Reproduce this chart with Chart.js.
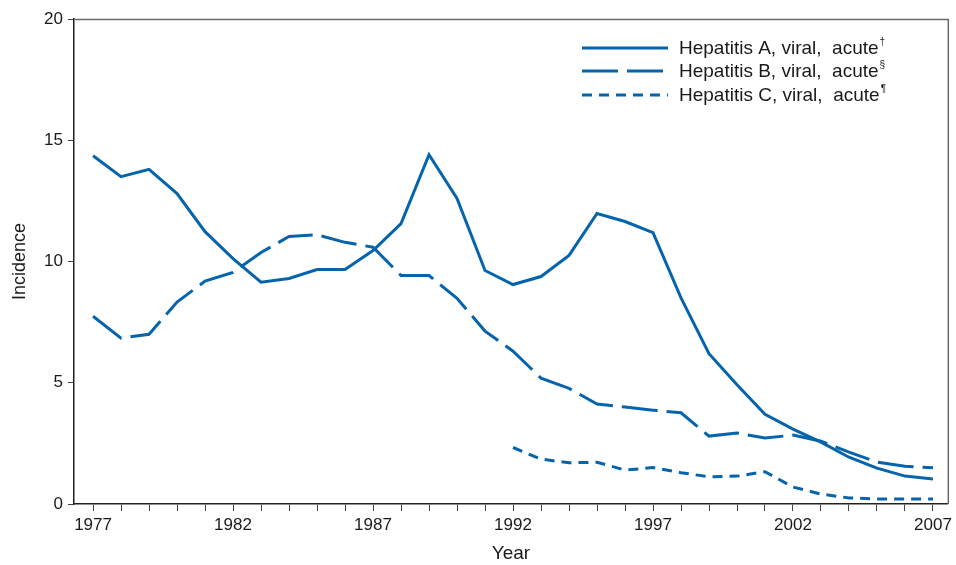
<!DOCTYPE html>
<html>
<head>
<meta charset="utf-8">
<script src="https://cdn.jsdelivr.net/npm/chart.js@4/dist/chart.umd.min.js"></script>
<style>
html,body{margin:0;padding:0;background:#fff;}
#wrap{width:956px;height:565px;position:relative;}
</style>
</head>
<body>
<div id="wrap"><canvas id="c" width="956" height="565"></canvas></div>
<script>
const years = [1977,1978,1979,1980,1981,1982,1983,1984,1985,1986,1987,1988,1989,1990,1991,1992,1993,1994,1995,1996,1997,1998,1999,2000,2001,2002,2003,2004,2005,2006,2007];
const hepA = [14.36,13.5,13.8,12.8,11.23,10.12,9.15,9.3,9.67,9.67,10.45,11.56,14.4,12.6,9.63,9.05,9.38,10.25,11.98,11.65,11.19,8.5,6.2,4.92,3.7,3.09,2.55,1.93,1.48,1.15,1.03];
const hepB = [7.74,6.84,7.0,8.33,9.19,9.55,10.37,11.03,11.1,10.79,10.59,9.42,9.42,8.48,7.13,6.3,5.19,4.77,4.12,4.0,3.87,3.76,2.8,2.93,2.72,2.84,2.59,2.14,1.73,1.56,1.49];
const hepC = [null,null,null,null,null,null,null,null,null,null,null,null,null,null,null,2.33,1.85,1.70,1.72,1.40,1.50,1.29,1.12,1.15,1.33,0.70,0.41,0.25,0.21,0.21,0.21];
const labeledYears = [1977,1982,1987,1992,1997,2002,2007];
const yTicks = [0,5,10,15,20];
const seriesNames = ['Hepatitis A, viral,  acute','Hepatitis B, viral,  acute','Hepatitis C, viral,  acute'];
const seriesMarks = ['\u2020','\u00A7','\u00B6'];

const BLUE = '#0564ab';
const FONT = '"Liberation Sans", Arial, Helvetica, sans-serif';
const dashes = [[], [36, 9], [10, 7]];

function pts(arr){ return years.map((y,i)=>({x:y, y:arr[i]})); }

const framePlugin = {
  id:'frame',
  afterDraw(chart){
    const {ctx, chartArea:a} = chart;
    ctx.save();
    ctx.strokeStyle = '#6a6a6a';
    ctx.lineWidth = 1.5;
    ctx.beginPath();
    ctx.moveTo(a.left, a.top+0.5);
    ctx.lineTo(a.right+0.5, a.top+0.5);
    ctx.lineTo(a.right+0.5, a.bottom);
    ctx.stroke();
    // legend
    const rows = [48, 71, 95];
    ctx.textBaseline = 'middle';
    ctx.textAlign = 'left';
    for (let i=0;i<3;i++){
      const y = rows[i];
      ctx.strokeStyle = BLUE;
      ctx.lineWidth = 3;
      ctx.setLineDash(dashes[i]);
      ctx.beginPath();
      ctx.moveTo(582, y);
      ctx.lineTo(668, y);
      ctx.stroke();
      ctx.setLineDash([]);
      ctx.fillStyle = '#1a1a1a';
      ctx.font = '19px ' + FONT;
      ctx.fillText(seriesNames[i], 679, y + 1);
      const w = ctx.measureText(seriesNames[i]).width;
      ctx.font = '10px ' + FONT;
      ctx.fillText(seriesMarks[i], 679 + w + 1, y - 6);
    }
    ctx.restore();
  }
};

new Chart(document.getElementById('c'), {
  type:'line',
  data:{
    datasets:[
      {label:seriesNames[0], data:pts(hepA), borderColor:BLUE, borderWidth:3, pointRadius:0, borderDash:dashes[0], tension:0},
      {label:seriesNames[1], data:pts(hepB), borderColor:BLUE, borderWidth:3, pointRadius:0, borderDash:dashes[1], tension:0},
      {label:seriesNames[2], data:pts(hepC), borderColor:BLUE, borderWidth:3, pointRadius:0, borderDash:dashes[2], tension:0, spanGaps:false}
    ]
  },
  options:{
    responsive:false,
    animation:false,
    layout:{padding:{top:19, right:6, left:0, bottom:0}},
    plugins:{legend:{display:false}, tooltip:{enabled:false}},
    scales:{
      x:{
        type:'linear',
        min:1976.32, max:2007.53,
        afterBuildTicks(s){ s.ticks = years.map(v=>({value:v})); },
        afterFit(s){ s.height = 61; },
        ticks:{
          autoSkip:false,
          maxRotation:0,
          padding:4,
          color:'#1a1a1a',
          font:{family:FONT, size:17},
          callback(v){ return labeledYears.includes(v) ? String(v) : ''; }
        },
        grid:{display:true, drawOnChartArea:false, drawTicks:true, tickLength:7, color:'#444', lineWidth:1},
        border:{display:true, color:'#222', width:1.5},
        title:{display:true, text:'Year', color:'#1a1a1a', font:{family:FONT, size:19}, padding:{top:2,bottom:0}}
      },
      y:{
        min:0, max:20,
        afterBuildTicks(s){ s.ticks = yTicks.map(v=>({value:v})); },
        afterFit(s){ s.width = 74; },
        ticks:{
          padding:5,
          color:'#1a1a1a',
          font:{family:FONT, size:17}
        },
        grid:{display:true, drawOnChartArea:false, drawTicks:true, tickLength:6, color:'#444', lineWidth:1},
        border:{display:true, color:'#222', width:1.5},
        title:{display:true, text:'Incidence', color:'#1a1a1a', font:{family:FONT, size:18}, padding:{top:9,bottom:0}}
      }
    }
  },
  plugins:[framePlugin]
});
</script>
</body>
</html>
